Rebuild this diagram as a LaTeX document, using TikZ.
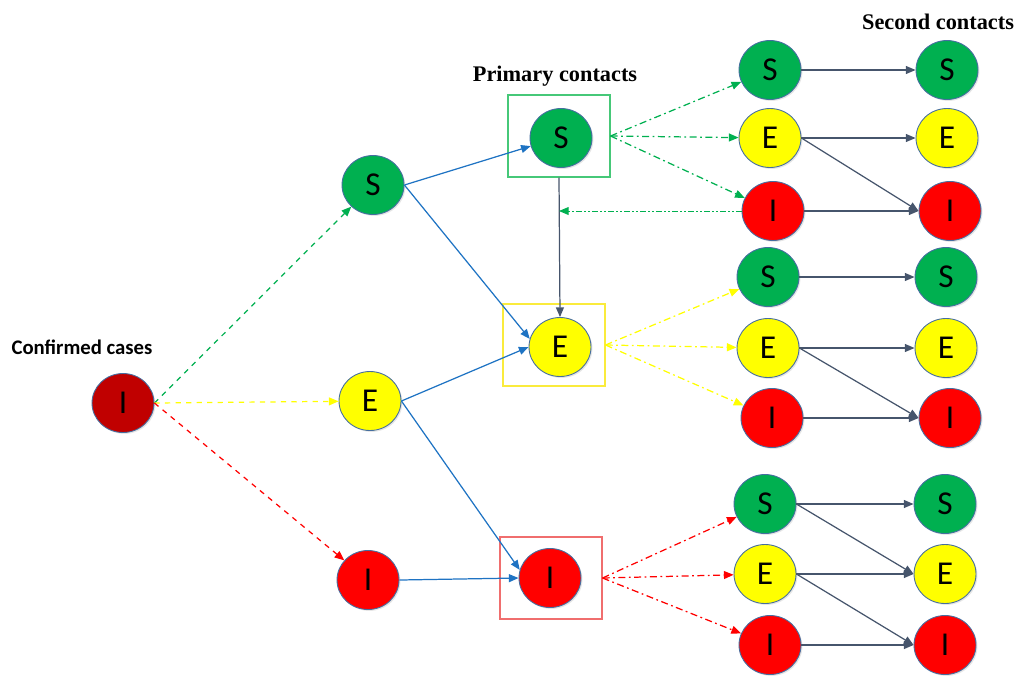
\documentclass[tikz,border=0pt]{standalone}
\usepackage{fontspec}
\setmainfont{Liberation Serif}
\newfontfamily\carlito{Carlito}
\usepackage{xcolor}
\usepackage{tikz}
\usetikzlibrary{shapes.geometric, arrows.meta, positioning, calc, shadows}
\definecolor{sgreen}{RGB}{0,176,80}
\definecolor{eyellow}{RGB}{255,255,0}
\definecolor{ired}{RGB}{255,0,0}
\definecolor{confred}{RGB}{192,0,0}
\definecolor{rimblue}{RGB}{70,110,160}
\definecolor{linkblue}{RGB}{30,115,195}
\definecolor{linkgray}{RGB}{70,85,108}
\definecolor{boxgreen}{RGB}{70,200,120}
\definecolor{boxyellow}{RGB}{250,235,60}
\definecolor{boxred}{RGB}{240,110,110}

\begin{document}
\begin{tikzpicture}[x=0.02cm, y=-0.02cm,
    state/.style={ellipse, draw=rimblue, line width=0.5pt, minimum width=1.24cm, minimum height=1.18cm, inner sep=0pt,
      font=\carlito\fontsize{19}{22}\selectfont, drop shadow={shadow xshift=0.8pt, shadow yshift=-0.8pt, opacity=0.2}},
    holder/.style={draw, line width=0.6pt, fill=white, minimum width=2.04cm, minimum height=1.64cm,
      drop shadow={shadow xshift=0.8pt, shadow yshift=-0.8pt, opacity=0.2}},
    title/.style={font=\bfseries\fontsize{12.7}{15}\selectfont},
    tip/.style={-{Triangle[length=5.5pt,width=4.5pt]}},
    spread/.style={tip, line width=0.7pt, dash pattern=on 4pt off 2pt on 1pt off 2pt},
    link/.style={tip, draw=linkgray, line width=0.7pt}]
    \useasboundingbox (0,0) rectangle (1016,677);

    % Confirmed case
    \node[title, font=\carlito\bfseries\fontsize{11.8}{14}\selectfont] (conflabel) at (82,347) {Confirmed cases};
    \node[state, fill=confred] (c) at (123,403) {I};

    % First generation
    \node[state, fill=sgreen] (s2) at (373,185) {S};
    \node[state, fill=eyellow] (e2) at (370,401) {E};
    \node[state, fill=ired] (i2) at (368,580) {I};

    % Primary contacts
    \node[title] (primlabel) at (555,76) {Primary contacts};
    \node[holder, draw=boxgreen] (sbox) at (559,136) {};
    \node[state, fill=sgreen] (s3) at (561,138) {S};
    \node[holder, draw=boxyellow] (ebox) at (554,345) {};
    \node[state, fill=eyellow] (e3) at (560,347) {E};
    \node[holder, draw=boxred] (ibox) at (551,578) {};
    \node[state, fill=ired] (i3) at (550,578) {I};

    % Contacts of contacts
    \node[state, fill=sgreen] (s41) at (770,70) {S};
    \node[state, fill=eyellow] (e41) at (770,138) {E};
    \node[state, fill=ired] (i41) at (773,211) {I};
    \node[state, fill=sgreen] (s42) at (768,277) {S};
    \node[state, fill=eyellow] (e42) at (768,348) {E};
    \node[state, fill=ired] (i42) at (772,418) {I};
    \node[state, fill=sgreen] (s43) at (765,504) {S};
    \node[state, fill=eyellow] (e43) at (765,574) {E};
    \node[state, fill=ired] (i43) at (770,645) {I};

    % Second contacts
    \node[title] (seclabel) at (938,22) {Second contacts};
    \node[state, fill=sgreen] (s51) at (947,70) {S};
    \node[state, fill=eyellow] (e51) at (947,138) {E};
    \node[state, fill=ired] (i51) at (950,211) {I};
    \node[state, fill=sgreen] (s52) at (946,277) {S};
    \node[state, fill=eyellow] (e52) at (946,348) {E};
    \node[state, fill=ired] (i52) at (950,418) {I};
    \node[state, fill=sgreen] (s53) at (945,504) {S};
    \node[state, fill=eyellow] (e53) at (945,574) {E};
    \node[state, fill=ired] (i53) at (945,645) {I};

    % from the confirmed case
    \draw[tip, sgreen, line width=0.7pt, dashed] (c.east) -- (s2);
    \draw[tip, eyellow, line width=0.7pt, dashed] (c.east) -- (e2);
    \draw[tip, ired, line width=0.7pt, dashed] (c.east) -- (i2);

    % into the primary contacts
    \draw[tip, linkblue, line width=0.7pt] (s2.east) -- (s3.195);
    \draw[tip, linkblue, line width=0.7pt] (s2.east) -- (e3.165);
    \draw[tip, linkblue, line width=0.7pt] (e2.east) -- (e3.west);
    \draw[tip, linkblue, line width=0.7pt] (e2.east) -- (i3.165);
    \draw[tip, linkblue, line width=0.7pt] (i2.east) -- (i3.west);
    \draw[link] (sbox.south) -- (e3.north);

    % spreading from the primary contacts
    \foreach \n in {s41,e41,i41} \draw[spread, sgreen] (sbox.east) -- (\n);
    \foreach \n in {s42,e42,i42} \draw[spread, eyellow] (ebox.east) -- (\n);
    \foreach \n in {s43,e43,i43} \draw[spread, ired] (ibox.east) -- (\n);
    \coordinate (back) at (sbox.south |- i41.west);
    \draw[tip, sgreen, line width=0.5pt, dash pattern=on 3pt off 1.5pt on 0.8pt off 1.5pt on 0.8pt off 1.5pt] (i41.west) -- (back);

    % second contacts
    \foreach \g in {1,2} {
      \draw[link] (s4\g.east) -- (s5\g.west);
      \draw[link] (e4\g.east) -- (e5\g.west);
      \draw[link] (e4\g.east) -- (i5\g.west);
      \draw[link] (i4\g.east) -- (i5\g.west);
    }
    \draw[link] (s43.east) -- (s53.west);
    \draw[link] (s43.east) -- (e53.west);
    \draw[link] (e43.east) -- (e53.west);
    \draw[link] (e43.east) -- (i53.west);
    \draw[link] (i43.east) -- (i53.west);
\end{tikzpicture}
\end{document}
